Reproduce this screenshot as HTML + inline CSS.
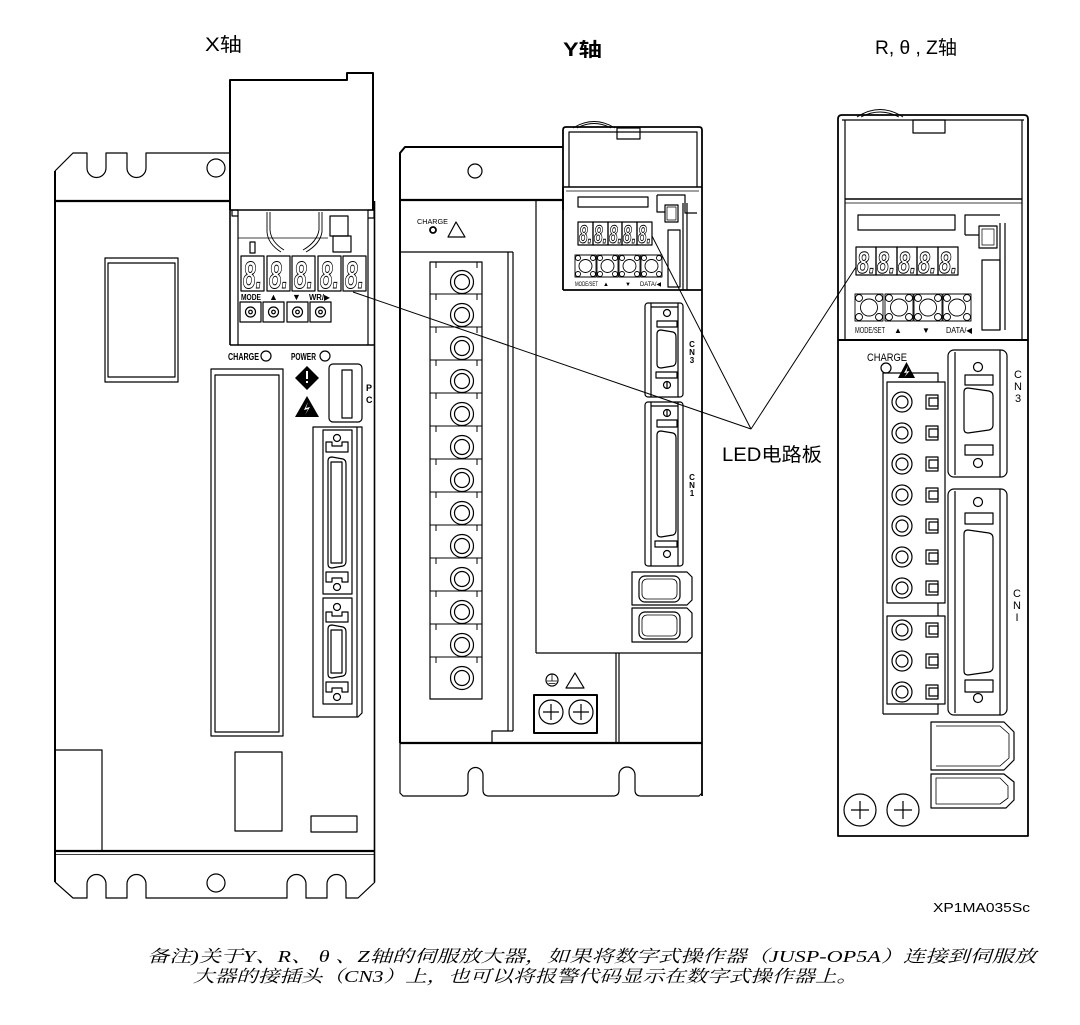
<!DOCTYPE html>
<html><head><meta charset="utf-8">
<style>
html,body{margin:0;padding:0;background:#fff;}
svg{display:block;}
</style></head><body>
<svg width="1080" height="1025" viewBox="0 0 1080 1025" xmlns="http://www.w3.org/2000/svg">
<rect width="1080" height="1025" fill="#fff"/>
<g fill="none" stroke="#000" stroke-width="1.2" stroke-linejoin="round">

<!-- ================= X AXIS UNIT ================= -->
<path d="M55,171 L73,153 L87,153 L87,168 A9.5,9.5 0 0 0 106,168 L106,153 L127,153 L127,168 A9.5,9.5 0 0 0 146,168 L146,153 L230,153"/>
<circle cx="216" cy="168" r="9"/>
<line x1="55" y1="171" x2="55" y2="882" stroke-width="2"/>
<line x1="55" y1="201" x2="231" y2="201" stroke-width="2.2"/>
<line x1="374.5" y1="201" x2="374.5" y2="882" stroke-width="1.6"/>
<line x1="55" y1="851" x2="375" y2="851" stroke-width="2.2"/>
<line x1="55" y1="854.5" x2="375" y2="854.5" stroke-width="0.8"/>
<path d="M55,882 L73,898 L87,898 L87,884 A9.5,9.5 0 0 1 106,884 L106,898 L127,898 L127,884 A9.5,9.5 0 0 1 146,884 L146,898 L287,898 L287,884 A9.5,9.5 0 0 1 306,884 L306,898 L327,898 L327,884 A9.5,9.5 0 0 1 346,884 L346,898 L358,898 L375,882"/>
<circle cx="216" cy="883" r="9"/>

<!-- cover -->
<path d="M230,210 L230,80 L347,80 L347,73 L373,73 L373,210" stroke-width="2"/>
<line x1="230" y1="210" x2="374" y2="210" stroke-width="1.6"/>
<!-- panel -->
<line x1="230" y1="210" x2="230" y2="345" stroke-width="1.6"/>
<line x1="238" y1="216" x2="238" y2="345"/>
<line x1="368" y1="218" x2="368" y2="345"/>
<rect x="232" y="210" width="6" height="6"/>
<rect x="368" y="210" width="6" height="8"/>
<line x1="238" y1="238" x2="328" y2="238" stroke-width="0.8"/>
<path d="M267,212 L267,232 Q268,244 281,252 M270,212 L270,230 Q271,242 284,250" stroke-width="0.9"/>
<path d="M322,212 L322,232 Q320,244 306,252 M319,212 L319,230 Q317,242 303,250" stroke-width="0.9"/>
<rect x="330" y="216" width="18" height="20"/>
<rect x="333" y="236" width="18" height="16"/>
<rect x="250" y="242" width="5" height="11"/>
<line x1="230" y1="345" x2="374" y2="345" stroke-width="1.6"/>
<!-- digit boxes -->
<rect x="241" y="256" width="23" height="35"/>
<rect x="267" y="256" width="23" height="35"/>
<rect x="292" y="256" width="23" height="35"/>
<rect x="318" y="256" width="23" height="35"/>
<rect x="343" y="256" width="23" height="35"/>
<!-- buttons -->
<rect x="240" y="302" width="21" height="20"/><circle cx="250.5" cy="312" r="5"/><circle cx="250.5" cy="312" r="1.8"/>
<rect x="263" y="302" width="21" height="20"/><circle cx="273.5" cy="312" r="5"/><circle cx="273.5" cy="312" r="1.8"/>
<rect x="287" y="302" width="21" height="20"/><circle cx="297.5" cy="312" r="5"/><circle cx="297.5" cy="312" r="1.8"/>
<rect x="310" y="302" width="21" height="20"/><circle cx="320.5" cy="312" r="5"/><circle cx="320.5" cy="312" r="1.8"/>
<!-- charge / power circles -->
<circle cx="266" cy="356" r="5"/>
<circle cx="325" cy="356" r="5"/>
<!-- left rect -->
<rect x="105" y="258" width="73" height="124"/>
<rect x="108" y="263" width="67" height="114"/>
<!-- long rect -->
<rect x="211" y="369" width="72" height="367"/>
<rect x="215" y="375" width="64" height="357"/>
<!-- bottom rects -->
<path d="M56,750 L102,750 L102,851"/>
<rect x="235" y="752" width="47" height="79"/>
<rect x="311" y="816" width="46" height="16"/>
<!-- PC slot -->
<rect x="329" y="364" width="33" height="58" rx="4"/>
<rect x="342" y="370" width="10" height="48"/>
<!-- connector block -->
<path d="M313,427 L362,427 L362,713 L358,717 L313,717 Z"/>
<line x1="357" y1="427" x2="357" y2="717"/>
<rect x="323" y="430" width="29" height="164"/>
<rect x="323" y="598" width="29" height="106"/>
<circle cx="337" cy="438" r="3.5"/>
<path d="M326,442 L332,442 L332,446 L342,446 L342,442 L348,442 L348,452 L326,452 Z"/>
<path d="M328,461 Q328,457 332,457 L343,459 Q346,460 346,464 L346,561 Q346,565 343,566 L332,568 Q328,568 328,564 Z"/>
<rect x="331" y="462" width="11" height="101"/>
<path d="M326,572 L348,572 L348,582 L342,582 L342,578 L332,578 L332,582 L326,582 Z"/>
<circle cx="337" cy="587" r="3.5"/>
<circle cx="337" cy="607" r="3.5"/>
<path d="M326,612 L332,612 L332,616 L342,616 L342,612 L348,612 L348,622 L326,622 Z"/>
<path d="M328,629 Q328,625 332,625 L343,627 Q346,628 346,632 L346,671 Q346,675 343,676 L332,678 Q328,678 328,674 Z"/>
<rect x="331" y="630" width="11" height="43"/>
<path d="M326,682 L348,682 L348,692 L342,692 L342,688 L332,688 L332,692 L326,692 Z"/>
<circle cx="337" cy="697" r="3.5"/>

<!-- ================= Y AXIS UNIT ================= -->
<path d="M400,743 L400,153 L405,147 L563,147" stroke-width="2"/>
<circle cx="475" cy="171" r="7"/>
<line x1="400" y1="200" x2="563" y2="200" stroke-width="2.2"/>
<path d="M563,210 L563,130 Q563,127 566,127 L699,127 Q702,127 702,130 L702,796" stroke-width="1.8"/>
<path d="M569,187 L569,132 L697,132 L697,187"/>
<path d="M573,128 Q594,115 615,128 M577,128 Q594,119 611,128" stroke-width="0.9"/>
<rect x="617" y="128" width="23" height="11"/>
<line x1="563" y1="187" x2="702" y2="187" stroke-width="1.6"/>
<line x1="566" y1="191" x2="699" y2="191" stroke-width="0.8"/>
<line x1="563" y1="187" x2="563" y2="290" stroke-width="1.8"/>
<line x1="563" y1="290" x2="702" y2="290" stroke-width="1.8"/>
<line x1="536" y1="200" x2="536" y2="653"/>
<line x1="536" y1="653" x2="702" y2="653"/>
<line x1="616" y1="653" x2="616" y2="743"/>
<line x1="619" y1="653" x2="619" y2="743"/>
<line x1="400" y1="743" x2="702" y2="743" stroke-width="2.2"/>
<path d="M400,743 L400,793 L403,796 L462,796 Q468,796 468,790 L468,775 A7.5,7.5 0 0 1 483,775 L483,790 Q483,796 489,796 L613,796 Q619,796 619,790 L619,775 A8,8 0 0 1 635,775 L635,790 Q635,796 641,796 L699,796 L702,793"/>
<!-- terminal housing -->
<line x1="400" y1="252" x2="513" y2="252"/>
<line x1="508" y1="252" x2="508" y2="731"/>
<line x1="513" y1="252" x2="513" y2="731"/>
<path d="M513,731 L492,731 L492,743"/>
<!-- terminal strip -->
<rect x="430" y="262" width="52" height="437"/>
<g stroke-width="1">
<path d="M430,294H482M430,327H482M430,360H482M430,393H482M430,426H482M430,459H482M430,492H482M430,525H482M430,558H482M430,591H482M430,624H482M430,657H482"/>
<path d="M436,262v6M477,262v6M436,294v6M477,294v6M436,327v6M477,327v6M436,360v6M477,360v6M436,393v6M477,393v6M436,426v6M477,426v6M436,459v6M477,459v6M436,492v6M477,492v6M436,525v6M477,525v6M436,558v6M477,558v6M436,591v6M477,591v6M436,624v6M477,624v6M436,657v6M477,657v6"/>
</g>
<g>
<circle cx="462" cy="282" r="11.5"/><circle cx="462" cy="282" r="7.5"/>
<circle cx="462" cy="315" r="11.5"/><circle cx="462" cy="315" r="7.5"/>
<circle cx="462" cy="348" r="11.5"/><circle cx="462" cy="348" r="7.5"/>
<circle cx="462" cy="381" r="11.5"/><circle cx="462" cy="381" r="7.5"/>
<circle cx="462" cy="414" r="11.5"/><circle cx="462" cy="414" r="7.5"/>
<circle cx="462" cy="447" r="11.5"/><circle cx="462" cy="447" r="7.5"/>
<circle cx="462" cy="480" r="11.5"/><circle cx="462" cy="480" r="7.5"/>
<circle cx="462" cy="513" r="11.5"/><circle cx="462" cy="513" r="7.5"/>
<circle cx="462" cy="546" r="11.5"/><circle cx="462" cy="546" r="7.5"/>
<circle cx="462" cy="579" r="11.5"/><circle cx="462" cy="579" r="7.5"/>
<circle cx="462" cy="612" r="11.5"/><circle cx="462" cy="612" r="7.5"/>
<circle cx="462" cy="645" r="11.5"/><circle cx="462" cy="645" r="7.5"/>
<circle cx="462" cy="678" r="11.5"/><circle cx="462" cy="678" r="7.5"/>
</g>
<!-- Y panel -->
<rect x="578" y="197" width="70" height="10"/>
<path d="M657,195 L685,195 L685,213 L697,213 M657,195 L657,212 L665,212"/>
<rect x="665" y="205" width="13" height="17"/>
<rect x="667" y="207" width="9" height="13" stroke-width="0.7"/>
<rect x="668" y="230" width="12" height="57"/>
<path d="M683,203 L683,290 M687,203 L687,290"/>
<rect x="578" y="222" width="15" height="23"/>
<rect x="593" y="222" width="15" height="23"/>
<rect x="608" y="222" width="14" height="23"/>
<rect x="622" y="222" width="15" height="23"/>
<rect x="637" y="222" width="15" height="23"/>
<g stroke-width="0.9">
<rect x="575" y="255" width="21" height="22"/><circle cx="585.5" cy="266" r="6.5"/>
<circle cx="578" cy="258" r="2.5"/><circle cx="593" cy="258" r="2.5"/><circle cx="578" cy="274" r="2.5"/><circle cx="593" cy="274" r="2.5"/>
<rect x="597" y="255" width="21" height="22"/><circle cx="607.5" cy="266" r="6.5"/>
<circle cx="600" cy="258" r="2.5"/><circle cx="615" cy="258" r="2.5"/><circle cx="600" cy="274" r="2.5"/><circle cx="615" cy="274" r="2.5"/>
<rect x="619" y="255" width="21" height="22"/><circle cx="629.5" cy="266" r="6.5"/>
<circle cx="622" cy="258" r="2.5"/><circle cx="637" cy="258" r="2.5"/><circle cx="622" cy="274" r="2.5"/><circle cx="637" cy="274" r="2.5"/>
<rect x="641" y="255" width="21" height="22"/><circle cx="651.5" cy="266" r="6.5"/>
<circle cx="644" cy="258" r="2.5"/><circle cx="659" cy="258" r="2.5"/><circle cx="644" cy="274" r="2.5"/><circle cx="659" cy="274" r="2.5"/>
</g>
<!-- charge -->
<circle cx="433" cy="230" r="3" stroke-width="1.8"/>
<path d="M448,237 L456,222 L465,237 Z"/>
<!-- CN3 -->
<rect x="645" y="303" width="38" height="94" rx="3"/>
<path d="M651,303 V397 M678,303 V397 M651,307 H678"/>
<circle cx="667" cy="313" r="3.5"/>
<rect x="657" y="321" width="20" height="6"/>
<path d="M657,334 Q657,330 661,330 L673,332 Q676,333 676,337 L676,361 Q676,365 673,366 L661,368 Q657,368 657,364 Z"/>
<rect x="656" y="372" width="21" height="6"/>
<circle cx="667" cy="385" r="3.5"/><line x1="667" y1="381.5" x2="667" y2="388.5"/>
<!-- CN1 -->
<rect x="645" y="402" width="38" height="164" rx="3"/>
<path d="M651,402 V566 M678,402 V566 M651,406 H678"/>
<circle cx="667" cy="413" r="3.5"/><line x1="667" y1="409.5" x2="667" y2="416.5"/>
<rect x="657" y="420" width="20" height="7"/>
<path d="M657,435 Q657,431 661,431 L673,433 Q676,434 676,438 L676,530 Q676,534 673,535 L661,537 Q657,537 657,533 Z"/>
<rect x="655" y="541" width="22" height="6"/>
<circle cx="667" cy="554" r="3.5"/>
<!-- small connectors -->
<path d="M632,572 L687,572 L692,577 L692,600 L687,605 L632,605 Z"/>
<rect x="639" y="576" width="41" height="26" rx="6"/>
<rect x="642" y="579" width="35" height="20" rx="5" stroke-width="0.8"/>
<path d="M632,608 L687,608 L692,613 L692,637 L687,642 L632,642 Z"/>
<rect x="639" y="612" width="41" height="27" rx="6"/>
<rect x="642" y="615" width="35" height="21" rx="5" stroke-width="0.8"/>
<!-- ground terminal -->
<circle cx="552" cy="680" r="6"/>
<path d="M552,674 V681 M547,681 H557 M548.5,683.5 H555.5 M550,686 H554" stroke-width="0.8"/>
<path d="M566,688 L575,673 L584,688 Z"/>
<rect x="534" y="695" width="63" height="38" stroke-width="2"/>
<circle cx="551" cy="712" r="12"/><path d="M543,712 H559 M551,704 V720"/>
<circle cx="581" cy="712" r="12"/><path d="M573,712 H589 M581,704 V720"/>

<!-- ================= R/θ/Z UNIT ================= -->
<path d="M838,836 L838,119 Q838,115 842,115 L1024,115 Q1028,115 1028,119 L1028,836 Z" stroke-width="1.8"/>
<line x1="842" y1="120" x2="1024" y2="120"/>
<line x1="845" y1="120" x2="845" y2="340"/>
<line x1="1022" y1="120" x2="1022" y2="340"/>
<path d="M857,117 Q880,102 903,117 M861,117 Q880,107 899,117" stroke-width="0.9"/>
<rect x="913" y="120" width="32" height="13"/>
<line x1="845" y1="199" x2="1022" y2="199" stroke-width="1.4"/>
<line x1="845" y1="203" x2="1022" y2="203" stroke-width="0.8"/>
<line x1="838" y1="340" x2="1028" y2="340" stroke-width="2"/>
<rect x="858" y="215" width="97" height="15"/>
<path d="M965,235 L965,215 L1000,215 M965,235 L979,235"/>
<rect x="979" y="226" width="18" height="22"/>
<rect x="982" y="229" width="12" height="16" stroke-width="0.7"/>
<rect x="982" y="260" width="18" height="70"/>
<path d="M1000,223 V330 M1005,223 V330"/>
<rect x="856" y="247" width="20" height="28"/>
<rect x="876" y="247" width="21" height="28"/>
<rect x="897" y="247" width="20" height="28"/>
<rect x="917" y="247" width="21" height="28"/>
<rect x="938" y="247" width="20" height="28"/>
<g stroke-width="0.9">
<rect x="855" y="294" width="28" height="27"/><circle cx="869" cy="307.5" r="8.5"/>
<circle cx="859" cy="298" r="3.5"/><circle cx="879" cy="298" r="3.5"/><circle cx="859" cy="317" r="3.5"/><circle cx="879" cy="317" r="3.5"/>
<rect x="885" y="294" width="28" height="27"/><circle cx="899" cy="307.5" r="8.5"/>
<circle cx="889" cy="298" r="3.5"/><circle cx="909" cy="298" r="3.5"/><circle cx="889" cy="317" r="3.5"/><circle cx="909" cy="317" r="3.5"/>
<rect x="914" y="294" width="28" height="27"/><circle cx="928" cy="307.5" r="8.5"/>
<circle cx="918" cy="298" r="3.5"/><circle cx="938" cy="298" r="3.5"/><circle cx="918" cy="317" r="3.5"/><circle cx="938" cy="317" r="3.5"/>
<rect x="943" y="294" width="28" height="27"/><circle cx="957" cy="307.5" r="8.5"/>
<circle cx="947" cy="298" r="3.5"/><circle cx="967" cy="298" r="3.5"/><circle cx="947" cy="317" r="3.5"/><circle cx="967" cy="317" r="3.5"/>
</g>
<circle cx="886" cy="368" r="5"/>
<!-- terminal blocks -->
<path d="M883,714 L883,373 L938,373 L938,382"/>
<rect x="887" y="382" width="58" height="221"/>
<rect x="887" y="616" width="58" height="88"/>
<path d="M938,603 L938,616 M883,714 L938,714 L938,704"/>
<g>
<circle cx="902" cy="402" r="10"/><circle cx="902" cy="402" r="6"/><rect x="926" y="395" width="12" height="14"/><rect x="929" y="398" width="9" height="8"/>
<circle cx="902" cy="433" r="10"/><circle cx="902" cy="433" r="6"/><rect x="926" y="426" width="12" height="14"/><rect x="929" y="429" width="9" height="8"/>
<circle cx="902" cy="464" r="10"/><circle cx="902" cy="464" r="6"/><rect x="926" y="457" width="12" height="14"/><rect x="929" y="460" width="9" height="8"/>
<circle cx="902" cy="495" r="10"/><circle cx="902" cy="495" r="6"/><rect x="926" y="488" width="12" height="14"/><rect x="929" y="491" width="9" height="8"/>
<circle cx="902" cy="526" r="10"/><circle cx="902" cy="526" r="6"/><rect x="926" y="519" width="12" height="14"/><rect x="929" y="522" width="9" height="8"/>
<circle cx="902" cy="557" r="10"/><circle cx="902" cy="557" r="6"/><rect x="926" y="550" width="12" height="14"/><rect x="929" y="553" width="9" height="8"/>
<circle cx="902" cy="588" r="10"/><circle cx="902" cy="588" r="6"/><rect x="926" y="581" width="12" height="14"/><rect x="929" y="584" width="9" height="8"/>
<circle cx="902" cy="630" r="10"/><circle cx="902" cy="630" r="6"/><rect x="926" y="623" width="12" height="14"/><rect x="929" y="626" width="9" height="8"/>
<circle cx="902" cy="661" r="10"/><circle cx="902" cy="661" r="6"/><rect x="926" y="654" width="12" height="14"/><rect x="929" y="657" width="9" height="8"/>
<circle cx="902" cy="692" r="10"/><circle cx="902" cy="692" r="6"/><rect x="926" y="685" width="12" height="14"/><rect x="929" y="688" width="9" height="8"/>
</g>
<!-- CN3 R -->
<rect x="948" y="350" width="59" height="127" rx="6"/>
<path d="M955,352 V475 M1000,350 V477"/>
<circle cx="978" cy="367" r="4.5"/>
<rect x="965" y="375" width="28" height="10"/>
<path d="M964,392 Q964,388 968,388 L989,391 Q993,392 993,396 L993,425 Q993,429 989,430 L968,433 Q964,433 964,429 Z"/>
<rect x="965" y="445" width="28" height="10"/>
<circle cx="978" cy="463" r="4.5"/>
<!-- CN1 R -->
<rect x="948" y="489" width="59" height="226" rx="6"/>
<path d="M955,491 V713 M1000,489 V715"/>
<circle cx="978" cy="502" r="4.5"/>
<rect x="965" y="513" width="28" height="11"/>
<path d="M964,534 Q964,530 968,530 L989,533 Q993,534 993,538 L993,667 Q993,671 989,672 L968,675 Q964,675 964,671 Z"/>
<rect x="965" y="680" width="28" height="12"/>
<circle cx="978" cy="698" r="4.5"/>
<!-- bottom connectors R -->
<path d="M931,722 L1004,722 L1014,732 L1014,760 L1004,770 L931,770 Z"/>
<path d="M936,726 L1000,726 L1009,734 L1009,758 L1000,766 L936,766" stroke-width="0.8"/>
<path d="M931,774 L1004,774 L1014,782 L1014,800 L1006,808 L931,808 Z"/>
<path d="M936,778 L1000,778 L1008,786 L1008,798 L1000,804 L936,804 Z" stroke-width="0.8"/>
<circle cx="860" cy="810" r="16"/><path d="M851,810 H869 M860,801 V819"/>
<circle cx="903" cy="810" r="16"/><path d="M894,810 H912 M903,801 V819"/>

<!-- ================= LEADER LINES ================= -->
<path d="M353,292 L751,429 M652,236 L751,429 M856,267 L751,429" stroke-width="1"/>
</g>

<!-- filled symbols -->
<polygon points="307,366 319,378 307,390 295,378" fill="#000"/>
<rect x="306" y="371" width="2" height="8" fill="#fff"/>
<rect x="306" y="381" width="2" height="2" fill="#fff"/>
<polygon points="307,396 319,417 295,417" fill="#000"/>
<path d="M308,402 L304,410 L308,409 L305,415 L310,407 L306,408 Z" fill="#fff"/>
<polygon points="906.5,362 915,378 898,378" fill="#000"/>
<path d="M908,366 L904,373 L907,372.5 L904.5,377 L909.5,371 L906.5,371.5 Z" fill="#fff"/>

<!-- digits -->
<g font-family="'Liberation Sans',sans-serif" font-style="italic" font-weight="bold" fill="#fff" stroke="#000" stroke-width="1">
<text x="243" y="288" font-size="38" textLength="19" lengthAdjust="spacingAndGlyphs">8.</text>
<text x="269" y="288" font-size="38" textLength="19" lengthAdjust="spacingAndGlyphs">8.</text>
<text x="294" y="288" font-size="38" textLength="19" lengthAdjust="spacingAndGlyphs">8.</text>
<text x="320" y="288" font-size="38" textLength="19" lengthAdjust="spacingAndGlyphs">8.</text>
<text x="345" y="288" font-size="38" textLength="19" lengthAdjust="spacingAndGlyphs">8.</text>
<text x="579" y="243" font-size="25" textLength="13" lengthAdjust="spacingAndGlyphs">8.</text>
<text x="594" y="243" font-size="25" textLength="13" lengthAdjust="spacingAndGlyphs">8.</text>
<text x="609" y="243" font-size="25" textLength="13" lengthAdjust="spacingAndGlyphs">8.</text>
<text x="623" y="243" font-size="25" textLength="13" lengthAdjust="spacingAndGlyphs">8.</text>
<text x="638" y="243" font-size="25" textLength="13" lengthAdjust="spacingAndGlyphs">8.</text>
<text x="857" y="273" font-size="31" textLength="18" lengthAdjust="spacingAndGlyphs">8.</text>
<text x="877" y="273" font-size="31" textLength="18" lengthAdjust="spacingAndGlyphs">8.</text>
<text x="898" y="273" font-size="31" textLength="18" lengthAdjust="spacingAndGlyphs">8.</text>
<text x="918" y="273" font-size="31" textLength="18" lengthAdjust="spacingAndGlyphs">8.</text>
<text x="939" y="273" font-size="31" textLength="18" lengthAdjust="spacingAndGlyphs">8.</text>
</g>

<!-- small labels -->
<g font-family="'Liberation Sans','DejaVu Sans',sans-serif" fill="#000">
<text x="241" y="300" font-size="8" font-weight="bold" textLength="20" lengthAdjust="spacingAndGlyphs">MODE</text>
<text x="269" y="300" font-size="9">▲</text>
<text x="292" y="300" font-size="9">▼</text>
<text x="309" y="300" font-size="8" font-weight="bold" textLength="21" lengthAdjust="spacingAndGlyphs">WR/▶</text>
<text x="228" y="360" font-size="10" font-weight="bold" textLength="31" lengthAdjust="spacingAndGlyphs">CHARGE</text>
<text x="291" y="360" font-size="10" font-weight="bold" textLength="25" lengthAdjust="spacingAndGlyphs">POWER</text>
<text x="366" y="391" font-size="9" font-weight="bold">P</text>
<text x="366" y="403" font-size="9" font-weight="bold">C</text>
<text x="417" y="224" font-size="7" textLength="31" lengthAdjust="spacingAndGlyphs">CHARGE</text>
<text x="575" y="286" font-size="6" textLength="23" lengthAdjust="spacingAndGlyphs">MODE/SET</text>
<text x="603" y="286" font-size="6">▲</text>
<text x="625" y="286" font-size="6">▼</text>
<text x="640" y="286" font-size="6" textLength="21" lengthAdjust="spacingAndGlyphs">DATA/◀</text>
<text x="692" y="347" font-size="8" font-weight="bold" text-anchor="middle">C</text>
<text x="692" y="355" font-size="8" font-weight="bold" text-anchor="middle">N</text>
<text x="692" y="363" font-size="8" font-weight="bold" text-anchor="middle">3</text>
<text x="692" y="480" font-size="8" font-weight="bold" text-anchor="middle">C</text>
<text x="692" y="488" font-size="8" font-weight="bold" text-anchor="middle">N</text>
<text x="692" y="496" font-size="8" font-weight="bold" text-anchor="middle">1</text>
<text x="855" y="333" font-size="8" textLength="30" lengthAdjust="spacingAndGlyphs">MODE/SET</text>
<text x="894" y="333" font-size="8">▲</text>
<text x="922" y="333" font-size="8">▼</text>
<text x="946" y="333" font-size="8" textLength="26" lengthAdjust="spacingAndGlyphs">DATA/◀</text>
<text x="867" y="361" font-size="11" textLength="40" lengthAdjust="spacingAndGlyphs">CHARGE</text>
<text x="1018" y="378" font-size="11" text-anchor="middle">C</text>
<text x="1018" y="390" font-size="11" text-anchor="middle">N</text>
<text x="1018" y="402" font-size="11" text-anchor="middle">3</text>
<text x="1017" y="597" font-size="11" text-anchor="middle">C</text>
<text x="1017" y="609" font-size="11" text-anchor="middle">N</text>
<text x="1017" y="621" font-size="11" text-anchor="middle">I</text>
</g>

<!-- titles -->
<g font-family="'Liberation Sans','Noto Sans CJK SC',sans-serif" fill="#000">
<text x="205" y="51" font-size="19" textLength="37" lengthAdjust="spacingAndGlyphs">X轴</text>
<text x="563" y="56" font-size="19" font-weight="bold" textLength="39" lengthAdjust="spacingAndGlyphs">Y轴</text>
<text x="875" y="54" font-size="19" textLength="82" lengthAdjust="spacingAndGlyphs">R, θ , Z轴</text>
<text x="722" y="461" font-size="19" textLength="100" lengthAdjust="spacingAndGlyphs">LED电路板</text>
<text x="933" y="912" font-size="13" textLength="97" lengthAdjust="spacingAndGlyphs">XP1MA035Sc</text>
</g>

<!-- note -->
<g font-family="'Liberation Serif','Noto Serif CJK SC',serif" font-style="italic" fill="#000" font-size="17">
<text x="147" y="962" textLength="889" lengthAdjust="spacingAndGlyphs">备注)关于Y、R、 θ 、Z轴的伺服放大器，如果将数字式操作器（JUSP-OP5A）连接到伺服放</text>
<text x="193" y="982" textLength="665" lengthAdjust="spacingAndGlyphs">大器的接插头（CN3）上，也可以将报警代码显示在数字式操作器上。</text>
</g>
</svg>
</body></html>
